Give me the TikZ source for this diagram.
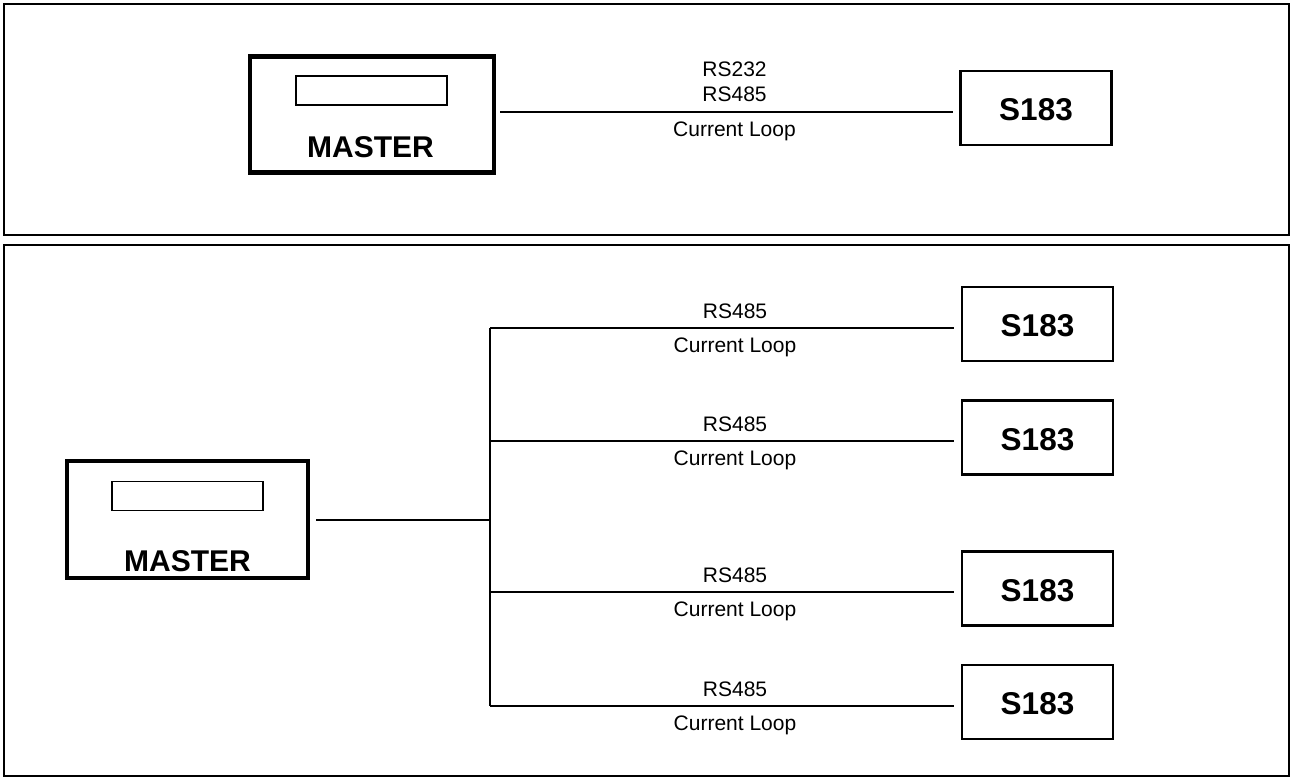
\documentclass[tikz,border=0pt]{standalone}
\usepackage{fontspec}
\setmainfont{Liberation Sans}
\begin{document}
\begin{tikzpicture}[x=1pt,y=-1pt,
  panel/.style={draw,line width=2.2pt},
  masterbox/.style={draw,line width=4.8pt,inner sep=0pt,minimum width=244pt,minimum height=116pt},
  display/.style={draw,line width=1.6pt,inner sep=0pt,minimum width=151pt,minimum height=29pt},
  slavebox/.style={draw,line width=2.8pt,inner sep=0pt,minimum width=151pt,minimum height=74pt},
  bigtxt/.style={font=\bfseries\fontsize{30}{32}\selectfont,anchor=base,inner sep=0pt},
  slavetxt/.style={font=\bfseries\fontsize{31.5}{33}\selectfont,anchor=base,inner sep=0pt},
  lbl/.style={font=\fontsize{21}{23}\selectfont,anchor=base,inner sep=0pt},
  wire/.style={line width=1.5pt}]
\useasboundingbox (0,0) rectangle (1292,780);
% panels
\draw[panel] (4,4) rectangle (1289,235);
\draw[panel] (4,245) rectangle (1289,776);

% ---- top panel ----
\node[masterbox] (m1) at (372,114.5) {};
\node[display] (d1) at (371.5,90.5) {};
\node[bigtxt] (mt1) at (370.5,157.5) {MASTER};
\node[slavebox] (s1) at (1036,108) {};
\node[slavetxt] at (s1.center) [yshift=-12.7pt] {S183};
\coordinate (t1a) at (500,112);
\coordinate (t1b) at (953,112);
\draw[wire] (t1a) -- (t1b);
\node[lbl] (r232) at (734.5,76) {RS232};
\node[lbl] (r485t) at (734.5,101) {RS485};
\node[lbl] (clt) at (734.5,136) {Current Loop};

% ---- bottom panel ----
\node[masterbox,minimum width=241pt,minimum height=117pt] (m2) at (187.5,519.5) {};
\node[display] (d2) at (187.5,496) {};
\node[bigtxt] (mt2) at (187.5,571.5) {MASTER};
\coordinate (ma) at (316,520);
\coordinate (bj) at (490,520);
\coordinate (btop) at (490,328);
\coordinate (bbot) at (490,706);
\draw[wire] (ma) -- (bj);
\draw[wire] (btop) -- (bbot);
\foreach \i/\ly/\by in {1/328/324, 2/441/437.5, 3/592/588.5, 4/706/702}{
  \node[slavebox] (s2\i) at (1037.5,\by) {};
  \node[slavetxt] at (s2\i.center) [yshift=-12.7pt] {S183};
  \coordinate (e\i) at (954,\ly);
  \draw[wire] (490,\ly) -- (e\i);
  \node[lbl] (r\i) at (735,\ly-10) {RS485};
  \node[lbl] (c\i) at (735,\ly+24) {Current Loop};
}
\end{tikzpicture}
\end{document}
